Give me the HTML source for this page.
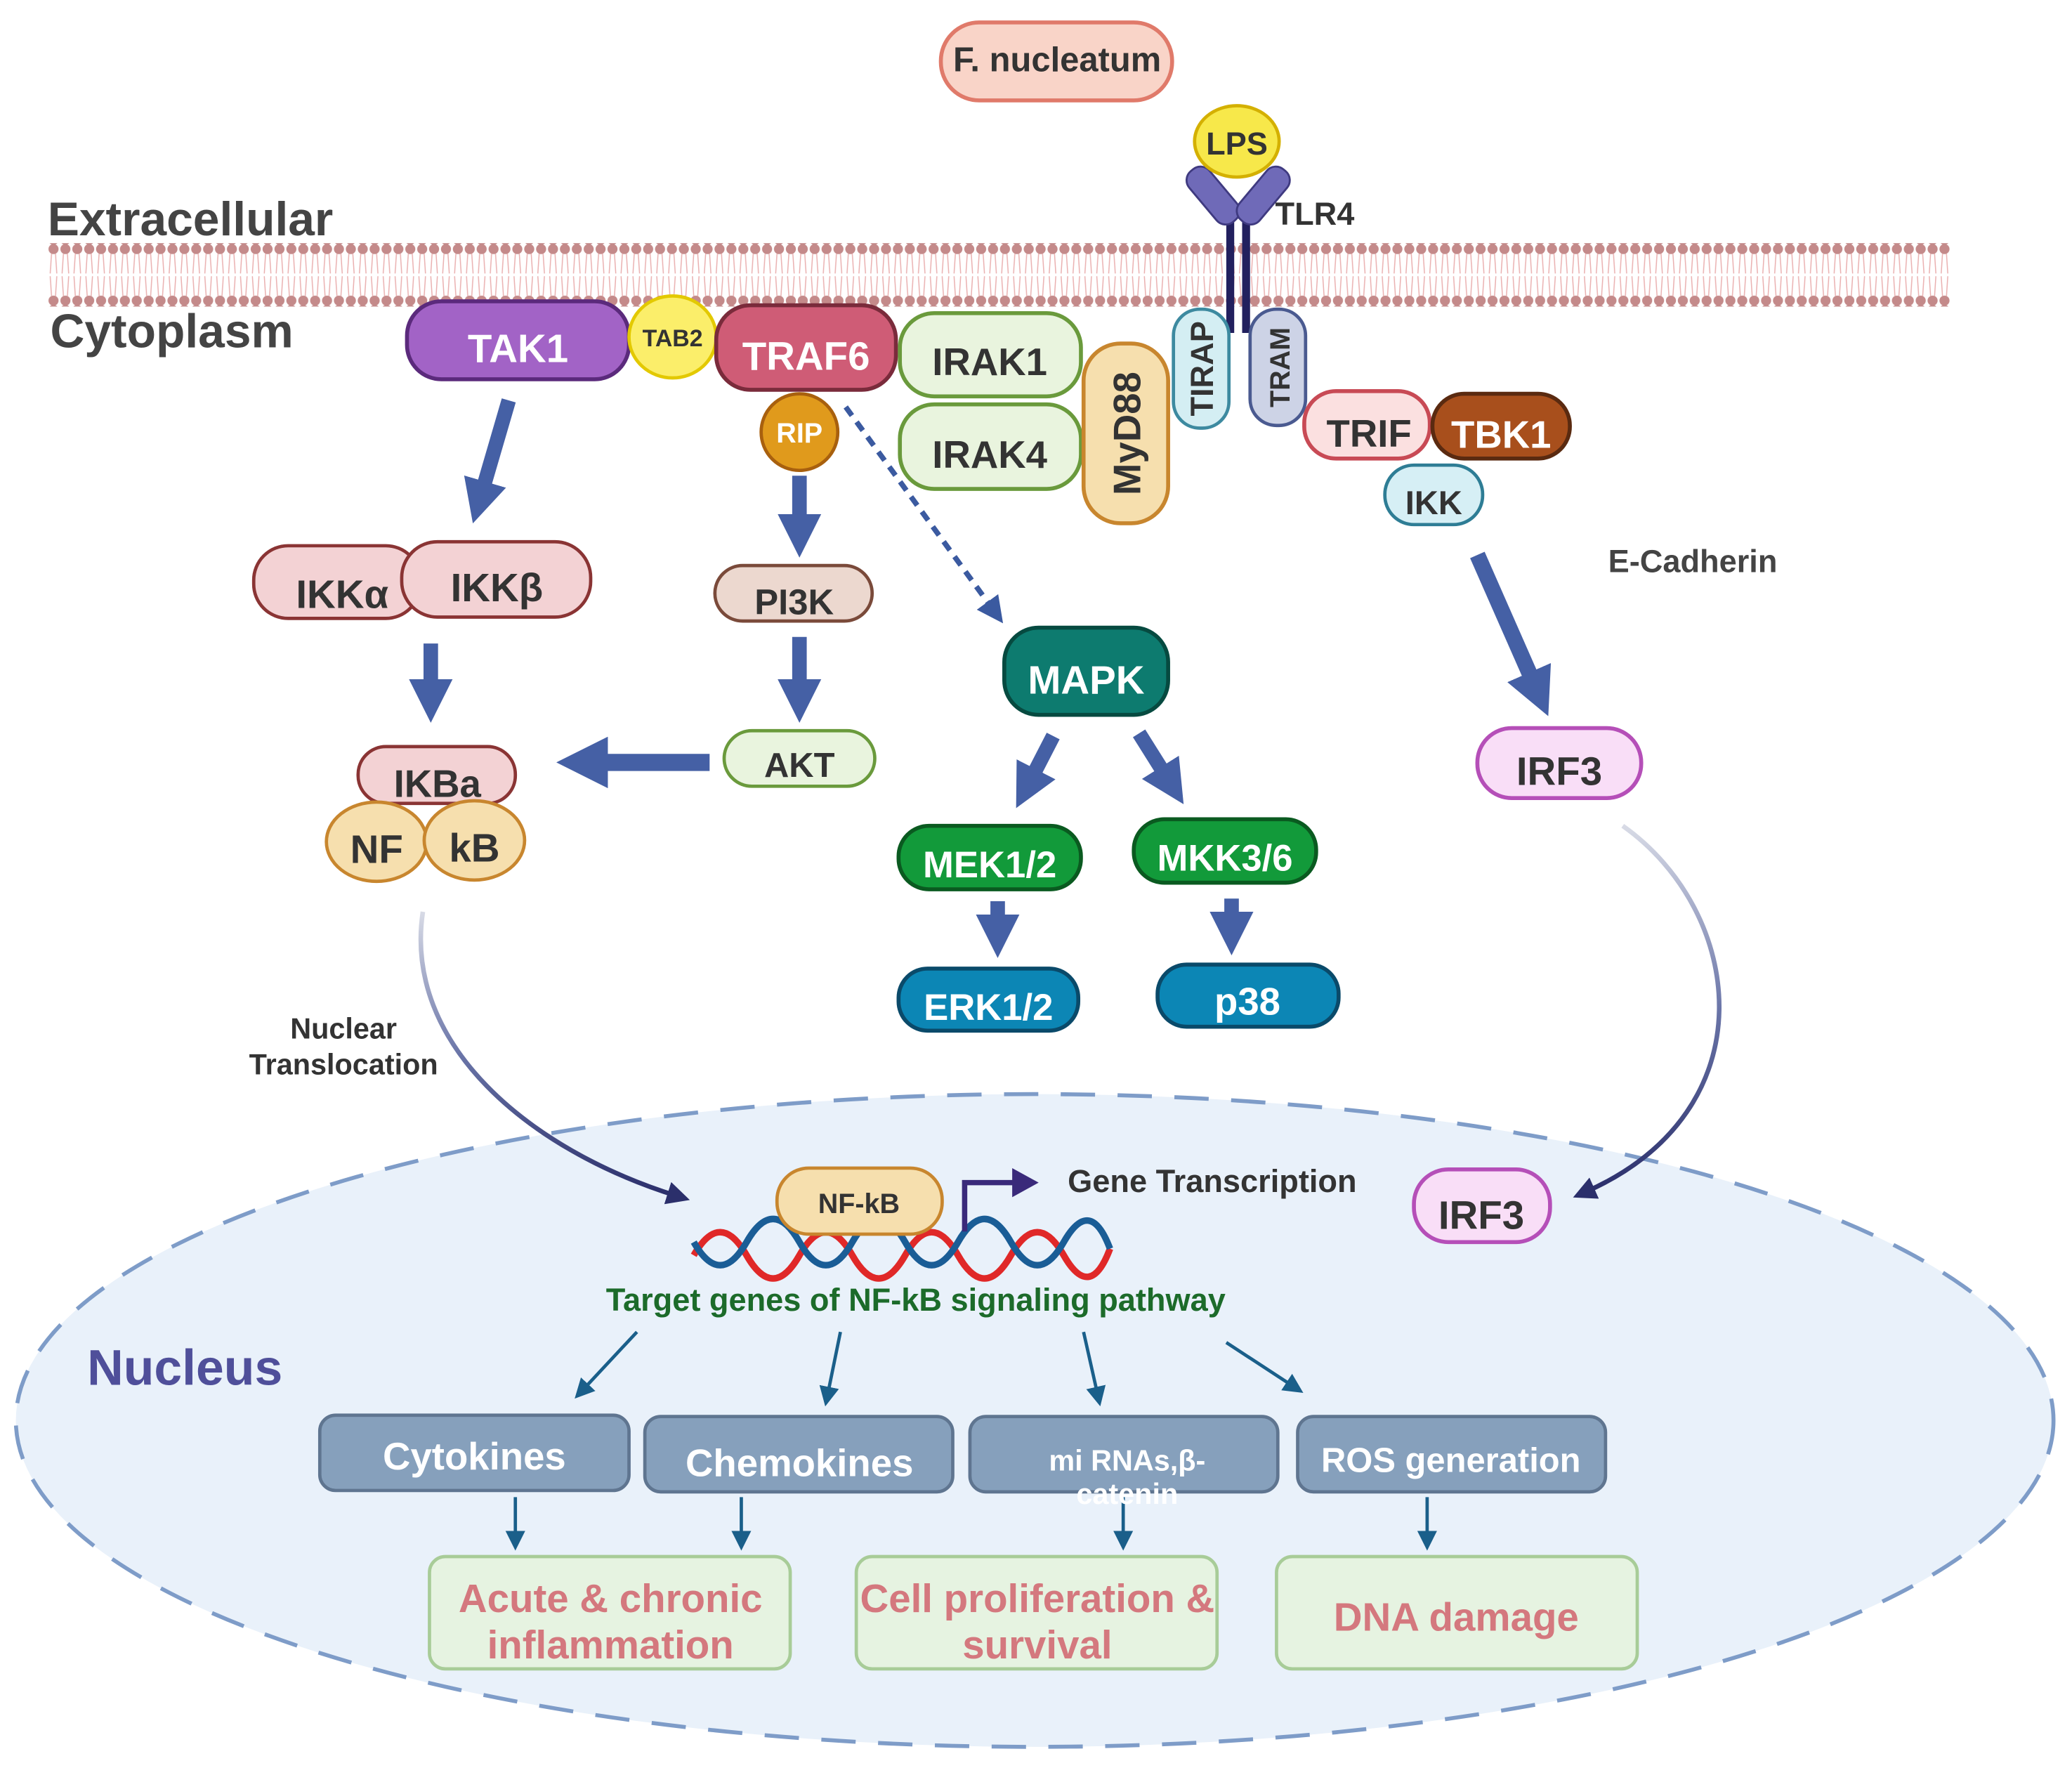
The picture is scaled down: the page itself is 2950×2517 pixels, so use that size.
<!DOCTYPE html>
<html><head><meta charset="utf-8"><style>
html,body{margin:0;padding:0;background:#fff}
svg{display:block}
text{font-family:"Liberation Sans",sans-serif;font-weight:bold}
</style></head><body>
<svg width="2950" height="2517" viewBox="0 0 1568 1338" preserveAspectRatio="none" xmlns="http://www.w3.org/2000/svg">
<defs>
<pattern id="mem" x="36" y="0" width="9" height="50" patternUnits="userSpaceOnUse">
<circle cx="4.5" cy="188" r="4" fill="#c48a8a"/>
</pattern>
<pattern id="lip" x="36" y="185" width="9" height="46" patternUnits="userSpaceOnUse">
<circle cx="4.5" cy="3.5" r="3.8" fill="#c48a8a"/>
<circle cx="4.5" cy="42.5" r="3.8" fill="#c48a8a"/>
<path d="M3 7 L2 22 M6 7 L7 22 M3 39 L2 24 M6 39 L7 24" stroke="#eab0b0" stroke-width="0.8" fill="none"/>
</pattern>
<marker id="ah" markerWidth="6" markerHeight="6" refX="3" refY="3" orient="auto" markerUnits="strokeWidth"><path d="M0,0 L6,3 L0,6 Z" fill="#1a5f8a"/></marker>
<marker id="ahb" markerWidth="3" markerHeight="3" refX="1" refY="1.5" orient="auto" markerUnits="strokeWidth"><path d="M0,0 L3,1.5 L0,3 Z" fill="#4560a5"/></marker>
<marker id="ahn" markerWidth="5" markerHeight="5" refX="2" refY="2.5" orient="auto" markerUnits="strokeWidth"><path d="M0,0 L5,2.5 L0,5 Z" fill="#2b2f6b"/></marker>
<marker id="ahd" markerWidth="5" markerHeight="5" refX="2" refY="2.5" orient="auto" markerUnits="strokeWidth"><path d="M0,0 L5,2.5 L0,5 Z" fill="#3b5aa0"/></marker>
<linearGradient id="g1" x1="0" y1="0" x2="0" y2="1"><stop offset="0" stop-color="#d8dbe6"/><stop offset="0.5" stop-color="#6a75a8"/><stop offset="1" stop-color="#2b2f6b"/></linearGradient>
</defs>

<!-- nucleus -->
<ellipse cx="783" cy="1075" rx="771" ry="247" fill="#e9f1fa" stroke="#7e9cc8" stroke-width="3" stroke-dasharray="26 17"/>

<!-- membrane -->
<rect x="36" y="184" width="1440" height="48" fill="url(#lip)"/>

<text x="36" y="178" font-size="36" fill="#444">Extracellular</text>
<text x="38" y="263" font-size="36" fill="#444">Cytoplasm</text>

<!-- F. nucleatum -->
<rect x="712" y="17" width="175" height="59" rx="29" fill="#f9d4c8" stroke="#e07a6a" stroke-width="3"/>
<text x="800" y="54" font-size="26" fill="#333" text-anchor="middle">F. nucleatum</text>

<!-- TLR4 -->
<path d="M931 160 L931 252 M943 160 L943 252" stroke="#22205e" stroke-width="6" fill="none"/>
<rect x="893" y="138" width="50" height="20" rx="9" fill="#6f6ab8" stroke="#3f3a80" stroke-width="1.5" transform="rotate(50 918 148)"/>
<rect x="931" y="138" width="50" height="20" rx="9" fill="#6f6ab8" stroke="#3f3a80" stroke-width="1.5" transform="rotate(-50 956 148)"/>
<ellipse cx="936" cy="107" rx="32" ry="27" fill="#f7e84a" stroke="#d4b000" stroke-width="2.5"/>
<text x="936" y="117" font-size="24" fill="#333" text-anchor="middle">LPS</text>
<text x="965" y="170" font-size="24" fill="#333">TLR4</text>

<!-- top complexes -->
<rect x="308" y="228" width="168" height="59" rx="26" fill="#a263c6" stroke="#5b2a7c" stroke-width="3"/>
<text x="392" y="274" font-size="30" fill="#fff" text-anchor="middle">TAK1</text>
<ellipse cx="509" cy="255" rx="33" ry="31" fill="#fbee6a" stroke="#e3c900" stroke-width="2.5"/>
<text x="509" y="262" font-size="18" fill="#333" text-anchor="middle">TAB2</text>
<rect x="542" y="231" width="136" height="64" rx="26" fill="#cf5c76" stroke="#7a2b3b" stroke-width="3"/>
<text x="610" y="280" font-size="30" fill="#fff" text-anchor="middle">TRAF6</text>
<rect x="681" y="237" width="137" height="63" rx="26" fill="#e9f4de" stroke="#6a9a3c" stroke-width="3"/>
<text x="749" y="284" font-size="29" fill="#333" text-anchor="middle">IRAK1</text>
<rect x="681" y="306" width="137" height="64" rx="26" fill="#e9f4de" stroke="#6a9a3c" stroke-width="3"/>
<text x="749" y="354" font-size="29" fill="#333" text-anchor="middle">IRAK4</text>
<rect x="820" y="260" width="64" height="136" rx="28" fill="#f6dfae" stroke="#c8862e" stroke-width="3"/>
<text transform="translate(863 328) rotate(-90)" font-size="29" fill="#333" text-anchor="middle">MyD88</text>
<rect x="888" y="234" width="42" height="90" rx="20" fill="#d4eef3" stroke="#3d8aa0" stroke-width="2.5"/>
<text transform="translate(918 279) rotate(-90)" font-size="24" fill="#333" text-anchor="middle">TIRAP</text>
<rect x="946" y="234" width="42" height="88" rx="20" fill="#cdd3e6" stroke="#4a5a90" stroke-width="2.5"/>
<text transform="translate(976 278) rotate(-90)" font-size="21" fill="#333" text-anchor="middle">TRAM</text>
<rect x="987" y="296" width="95" height="51" rx="24" fill="#fbe0e0" stroke="#c84a55" stroke-width="3"/>
<text x="1036" y="338" font-size="29" fill="#333" text-anchor="middle">TRIF</text>
<rect x="1084" y="298" width="104" height="49" rx="24" fill="#a84f1c" stroke="#5a2a10" stroke-width="3"/>
<text x="1136" y="339" font-size="29" fill="#fff" text-anchor="middle">TBK1</text>
<rect x="1048" y="352" width="74" height="45" rx="22" fill="#d6eff5" stroke="#2e7d95" stroke-width="2.5"/>
<text x="1085" y="389" font-size="25" fill="#333" text-anchor="middle">IKK</text>
<circle cx="605" cy="327" r="29" fill="#e09a1c" stroke="#a8600e" stroke-width="2.5"/>
<text x="605" y="335" font-size="21" fill="#fff" text-anchor="middle">RIP</text>

<!-- arrows cytoplasm -->
<path d="M640 308 L752 462" stroke="#3b5aa0" stroke-width="4" stroke-dasharray="8 6" fill="none" marker-end="url(#ahd)"/>
<path d="M385 303 L364 375" stroke="#4560a5" stroke-width="11" fill="none" marker-end="url(#ahb)"/>
<path d="M326 487 L326 525" stroke="#4560a5" stroke-width="11" fill="none" marker-end="url(#ahb)"/>
<path d="M605 360 L605 400" stroke="#4560a5" stroke-width="11" fill="none" marker-end="url(#ahb)"/>
<path d="M605 482 L605 525" stroke="#4560a5" stroke-width="11" fill="none" marker-end="url(#ahb)"/>
<path d="M537 577 L447 577" stroke="#4560a5" stroke-width="13" fill="none" marker-end="url(#ahb)"/>
<path d="M797 557 L779 592" stroke="#4560a5" stroke-width="11" fill="none" marker-end="url(#ahb)"/>
<path d="M862 555 L884 590" stroke="#4560a5" stroke-width="11" fill="none" marker-end="url(#ahb)"/>
<path d="M755 682 L755 703" stroke="#4560a5" stroke-width="11" fill="none" marker-end="url(#ahb)"/>
<path d="M932 680 L932 701" stroke="#4560a5" stroke-width="11" fill="none" marker-end="url(#ahb)"/>
<path d="M1118 420 L1162 520" stroke="#4560a5" stroke-width="12" fill="none" marker-end="url(#ahb)"/>

<!-- IKK -->
<rect x="192" y="413" width="126" height="55" rx="26" fill="#f3d2d4" stroke="#8a3434" stroke-width="2.5"/>
<text x="259" y="460" font-size="30" fill="#333" text-anchor="middle">IKKα</text>
<rect x="304" y="410" width="143" height="57" rx="27" fill="#f3d2d4" stroke="#8a3434" stroke-width="2.5"/>
<text x="376" y="455" font-size="30" fill="#333" text-anchor="middle">IKKβ</text>
<rect x="271" y="565" width="119" height="43" rx="21" fill="#f3d2d4" stroke="#8a3434" stroke-width="2.5"/>
<text x="331" y="603" font-size="29" fill="#333" text-anchor="middle">IKBa</text>
<ellipse cx="285" cy="637" rx="38" ry="30" fill="#f6dfae" stroke="#c8862e" stroke-width="2.5"/>
<text x="285" y="653" font-size="30" fill="#333" text-anchor="middle">NF</text>
<ellipse cx="359" cy="636" rx="38" ry="30" fill="#f6dfae" stroke="#c8862e" stroke-width="2.5"/>
<text x="359" y="652" font-size="30" fill="#333" text-anchor="middle">kB</text>

<rect x="541" y="428" width="119" height="42" rx="21" fill="#ecd8cf" stroke="#7a4a3a" stroke-width="2.5"/>
<text x="601" y="465" font-size="27" fill="#333" text-anchor="middle">PI3K</text>
<rect x="548" y="553" width="114" height="42" rx="21" fill="#e9f4de" stroke="#6a9a3c" stroke-width="2.5"/>
<text x="605" y="588" font-size="26" fill="#333" text-anchor="middle">AKT</text>

<rect x="760" y="475" width="124" height="66" rx="26" fill="#0d7b6f" stroke="#064a40" stroke-width="3"/>
<text x="822" y="525" font-size="30" fill="#fff" text-anchor="middle">MAPK</text>
<rect x="680" y="625" width="138" height="48" rx="23" fill="#129a3a" stroke="#0a5a20" stroke-width="3"/>
<text x="749" y="664" font-size="28" fill="#fff" text-anchor="middle">MEK1/2</text>
<rect x="858" y="620" width="138" height="48" rx="23" fill="#129a3a" stroke="#0a5a20" stroke-width="3"/>
<text x="927" y="659" font-size="28" fill="#fff" text-anchor="middle">MKK3/6</text>
<rect x="680" y="733" width="136" height="47" rx="22" fill="#0c86b5" stroke="#0a4a6a" stroke-width="3"/>
<text x="748" y="772" font-size="28" fill="#fff" text-anchor="middle">ERK1/2</text>
<rect x="876" y="730" width="137" height="47" rx="22" fill="#0c86b5" stroke="#0a4a6a" stroke-width="3"/>
<text x="944" y="768" font-size="29" fill="#fff" text-anchor="middle">p38</text>

<text x="1217" y="433" font-size="24" fill="#444">E-Cadherin</text>
<rect x="1118" y="551" width="124" height="53" rx="26" fill="#f9def7" stroke="#b54fb8" stroke-width="3"/>
<text x="1180" y="594" font-size="30" fill="#333" text-anchor="middle">IRF3</text>

<!-- curves -->
<path d="M1228 625 C1320 690 1340 840 1200 902" stroke="url(#g1)" stroke-width="3.5" fill="none" marker-end="url(#ahn)"/>
<path d="M320 690 C305 790 400 870 512 905" stroke="url(#g1)" stroke-width="3.5" fill="none" marker-end="url(#ahn)"/>
<text x="260" y="786" font-size="22" fill="#333" text-anchor="middle">Nuclear</text>
<text x="260" y="813" font-size="22" fill="#333" text-anchor="middle">Translocation</text>

<!-- nucleus content -->
<path d="M525 950 Q545 915 565 950 T605 950 T645 950 T685 950 T725 950 T765 950 T805 950 T840 945" stroke="#e02828" stroke-width="5" fill="none"/>
<path d="M525 940 Q545 975 565 940 T605 940 T645 940 T685 940 T725 940 T765 940 T805 940 T840 945" stroke="#1a5d96" stroke-width="5" fill="none"/>
<rect x="588" y="884" width="125" height="50" rx="24" fill="#f6dfae" stroke="#c8862e" stroke-width="2.5"/>
<text x="650" y="918" font-size="21" fill="#333" text-anchor="middle">NF-kB</text>
<path d="M730 932 L730 895 L768 895" stroke="#3a2a7a" stroke-width="4" fill="none"/>
<path d="M766 884 L786 895 L766 906 Z" fill="#3a2a7a"/>
<text x="808" y="902" font-size="24" fill="#333">Gene Transcription</text>
<rect x="1070" y="885" width="103" height="55" rx="26" fill="#f9def7" stroke="#b54fb8" stroke-width="3"/>
<text x="1121" y="930" font-size="30" fill="#333" text-anchor="middle">IRF3</text>
<text x="693" y="992" font-size="24" fill="#1c6b2a" text-anchor="middle">Target genes of NF-kB signaling pathway</text>
<text x="66" y="1048" font-size="38" fill="#4f4f9a">Nucleus</text>

<g stroke="#1a5f8a" stroke-width="2.5" fill="none" marker-end="url(#ah)">
<path d="M482 1008 L440 1053"/><path d="M636 1008 L626 1057"/><path d="M820 1008 L831 1057"/><path d="M928 1016 L980 1050"/>
<path d="M390 1133 L390 1166"/><path d="M561 1133 L561 1166"/><path d="M850 1133 L850 1166"/><path d="M1080 1133 L1080 1166"/>
</g>

<g fill="#86a0bc" stroke="#5f7590" stroke-width="2.5">
<rect x="242" y="1071" width="234" height="57" rx="12"/>
<rect x="488" y="1072" width="233" height="57" rx="12"/>
<rect x="734" y="1072" width="233" height="57" rx="12"/>
<rect x="982" y="1072" width="233" height="57" rx="12"/>
</g>
<g fill="#fff" text-anchor="middle">
<text x="359" y="1112" font-size="29">Cytokines</text>
<text x="605" y="1117" font-size="29">Chemokines</text>
<text x="853" y="1113" font-size="22">mi RNAs,β-</text>
<text x="853" y="1138" font-size="22">catenin</text>
<text x="1098" y="1114" font-size="26">ROS generation</text>
</g>
<g fill="#e6f3e1" stroke="#a8cc98" stroke-width="2.5">
<rect x="325" y="1178" width="273" height="85" rx="12"/>
<rect x="648" y="1178" width="273" height="85" rx="12"/>
<rect x="966" y="1178" width="273" height="85" rx="12"/>
</g>
<g fill="#d4787e" text-anchor="middle" font-size="30">
<text x="462" y="1220">Acute &amp; chronic</text>
<text x="462" y="1255">inflammation</text>
<text x="785" y="1220">Cell proliferation &amp;</text>
<text x="785" y="1255">survival</text>
<text x="1102" y="1234">DNA damage</text>
</g>
</svg>
</body></html>
